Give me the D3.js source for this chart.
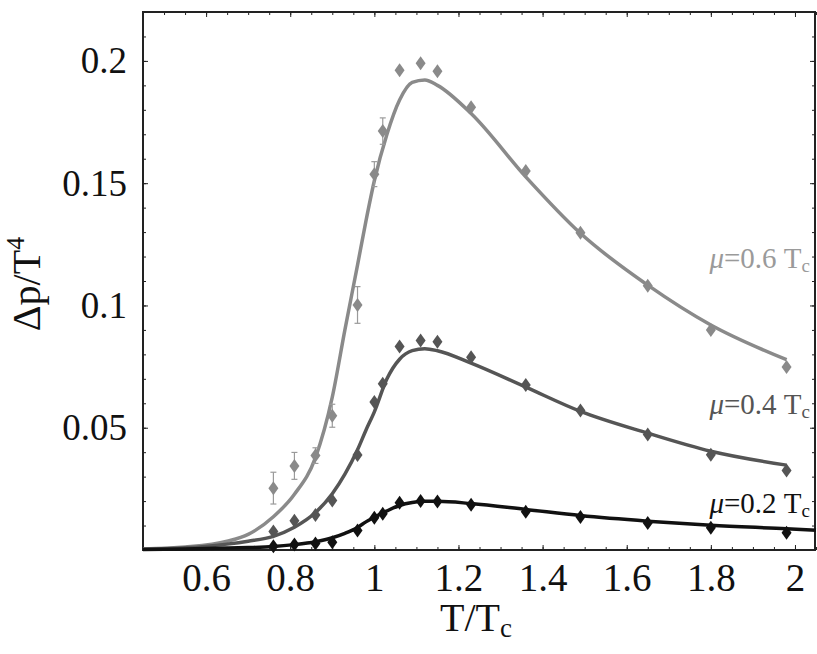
<!DOCTYPE html>
<html>
<head>
<meta charset="utf-8">
<script src="https://cdn.jsdelivr.net/npm/d3@7"></script>
<style>
  body { margin: 0; background: #fff; }
  .tick line { stroke: #222; }
</style>
</head>
<body>
<svg id="chart" width="817" height="654"></svg>
<script>
// lattice points (T/Tc) and pressure difference for three chemical potentials
const temps = [0.76, 0.81, 0.86, 0.90, 0.96, 1.00, 1.02, 1.06, 1.11, 1.15, 1.23, 1.36, 1.49, 1.65, 1.80, 1.98];
const mu02 = [0.0015, 0.0023, 0.0027, 0.0032, 0.0080, 0.0132, 0.0148, 0.0193, 0.0200, 0.0198, 0.0185, 0.0156, 0.0135, 0.0110, 0.0091, 0.0071];
const mu04 = [0.0076, 0.0120, 0.0143, 0.0202, 0.0388, 0.0605, 0.0680, 0.0832, 0.0857, 0.0852, 0.0788, 0.0675, 0.0570, 0.0472, 0.0390, 0.0325];
const mu06 = [0.0253, 0.0344, 0.0386, 0.0549, 0.1002, 0.1537, 0.1713, 0.1962, 0.1990, 0.1958, 0.1810, 0.1550, 0.1297, 0.1081, 0.0900, 0.0748];
const mu06Err = [0.0065, 0.0055, 0.0032, 0.0047, 0.0075, 0.0051, 0.0054, 0, 0, 0, 0, 0, 0, 0, 0, 0];

// fitted curves
const fitT = [0.45, 0.55, 0.65, 0.70, 0.76, 0.81, 0.86, 0.90, 0.93, 0.96, 0.98, 1.00, 1.03, 1.06, 1.09, 1.12, 1.15, 1.23, 1.36, 1.49, 1.65, 1.80, 1.98, 2.05];
const fit02 = [0.0002, 0.0004, 0.0008, 0.0010, 0.0014, 0.0022, 0.0034, 0.0050, 0.0068, 0.0092, 0.0115, 0.0134, 0.0160, 0.0182, 0.0194, 0.0199, 0.0199, 0.0190, 0.0166, 0.0141, 0.0118, 0.0101, 0.0087, 0.0081];
const fit04 = [0.0003, 0.0009, 0.0024, 0.0036, 0.0056, 0.0093, 0.0153, 0.0230, 0.0310, 0.0410, 0.0490, 0.0565, 0.0700, 0.0780, 0.0815, 0.0823, 0.0815, 0.0764, 0.0666, 0.0567, 0.0478, 0.0404, 0.0347, null];
const fit06 = [0.0004, 0.0012, 0.0036, 0.0064, 0.0136, 0.0228, 0.0378, 0.0625, 0.0900, 0.1165, 0.1345, 0.1510, 0.1700, 0.1840, 0.1912, 0.1922, 0.1900, 0.1785, 0.1526, 0.1295, 0.1083, 0.0920, 0.0778, null];

const xTicks = [0.6, 0.8, 1, 1.2, 1.4, 1.6, 1.8, 2];
const yTicks = [0.05, 0.1, 0.15, 0.2];

const serif = "'Liberation Serif', 'Times New Roman', Tinos, 'Nimbus Roman', 'DejaVu Serif', serif";

const svg = d3.select("#chart");
const margins = { top: 12, right: 1, bottom: 104, left: 143 };
const width = +svg.attr("width");
const height = +svg.attr("height");

const xScale = d3.scaleLinear().domain([0.45, 2.05]).range([margins.left, width - margins.right]);
const yScale = d3.scaleLinear().domain([0, 0.22]).range([height - margins.bottom, margins.top]);

const xMinor = d3.range(0.45, 2.051, 0.05).map((d) => +d.toFixed(2));
const yMinor = d3.range(0, 0.2201, 0.01).map((d) => +d.toFixed(2));

const series = [
  { vals: mu06, fit: fit06, color: "#8a8a8a", label: "0.6", labelColor: "#9a9a9a", labelY: 268 },
  { vals: mu04, fit: fit04, color: "#555555", label: "0.4", labelColor: "#555555", labelY: 414 },
  { vals: mu02, fit: fit02, color: "#111111", label: "0.2", labelColor: "#111111", labelY: 513 },
];

// frame
svg.append("rect")
  .attr("x", margins.left)
  .attr("y", margins.top)
  .attr("width", width - margins.left - margins.right - 1)
  .attr("height", height - margins.top - margins.bottom)
  .attr("fill", "none")
  .attr("stroke", "#222")
  .attr("stroke-width", 2);

// ticks on all four sides, pointing inward
function addTicks(axis, transform, size) {
  const g = svg.append("g").attr("transform", transform).call(axis.tickSize(-size));
  g.select(".domain").remove();
  return g;
}
const bottomY = height - margins.bottom;
const rightX = width - margins.right - 1;
addTicks(d3.axisBottom(xScale).tickValues(xMinor).tickFormat(""), `translate(0,${bottomY})`, 3);
addTicks(d3.axisTop(xScale).tickValues(xMinor).tickFormat(""), `translate(0,${margins.top})`, 3);
addTicks(d3.axisLeft(yScale).tickValues(yMinor).tickFormat(""), `translate(${margins.left},0)`, 3);
addTicks(d3.axisRight(yScale).tickValues(yMinor).tickFormat(""), `translate(${rightX},0)`, 3);
addTicks(d3.axisTop(xScale).tickValues(xTicks).tickFormat(""), `translate(0,${margins.top})`, 5);
addTicks(d3.axisRight(yScale).tickValues(yTicks).tickFormat(""), `translate(${rightX},0)`, 5);

const bottomAxis = addTicks(
  d3.axisBottom(xScale).tickValues(xTicks).tickFormat(d3.format("~g")).tickPadding(13),
  `translate(0,${bottomY})`, 5);
bottomAxis.attr("font-family", null).style("font-family", serif);
bottomAxis.selectAll("text").style("font-family", serif).style("font-size", "39px").attr("fill", "#111");

const leftAxis = addTicks(
  d3.axisLeft(yScale).tickValues(yTicks).tickFormat(d3.format("~g")).tickPadding(16),
  `translate(${margins.left},0)`, 5);
leftAxis.attr("font-family", null).style("font-family", serif);
leftAxis.selectAll("text").style("font-family", serif).style("font-size", "37px").attr("fill", "#111");

// axis titles
const xTitle = svg.append("text")
  .attr("x", 476)
  .attr("y", 631)
  .attr("text-anchor", "middle")
  .style("font-family", serif)
  .style("font-size", "40px")
  .attr("fill", "#111");
xTitle.append("tspan").text("T/T");
xTitle.append("tspan").text("c").style("font-size", "27px").attr("dy", 6);

const yTitle = svg.append("text")
  .attr("transform", "translate(40,284) rotate(-90)")
  .attr("text-anchor", "middle")
  .style("font-family", serif)
  .style("font-size", "40px")
  .attr("fill", "#111");
yTitle.append("tspan").text("\u0394p/T");
yTitle.append("tspan").text("4").style("font-size", "26px").attr("dy", -16);

// curves, error bars, markers
const chartArea = svg.append("g");
const line = d3.line()
  .defined((d) => d[1] !== null)
  .x((d) => xScale(d[0]))
  .y((d) => yScale(d[1]))
  .curve(d3.curveMonotoneX);

series.forEach((s) => {
  chartArea.append("path")
    .datum(fitT.map((t, i) => [t, s.fit[i]]))
    .attr("d", line)
    .attr("fill", "none")
    .attr("stroke", s.color)
    .attr("stroke-width", 3.5);
});

temps.forEach((t, i) => {
  const e = mu06Err[i];
  if (e > 0) {
    const cx = xScale(t);
    const g = chartArea.append("g").attr("stroke", "#9a9a9a").attr("stroke-width", 1.2);
    g.append("line").attr("x1", cx).attr("x2", cx)
      .attr("y1", yScale(mu06[i] - e)).attr("y2", yScale(mu06[i] + e));
    [mu06[i] - e, mu06[i] + e].forEach((v) => {
      g.append("line").attr("x1", cx - 3).attr("x2", cx + 3)
        .attr("y1", yScale(v)).attr("y2", yScale(v));
    });
  }
});

series.forEach((s) => {
  temps.forEach((t, i) => {
    chartArea.append("path")
      .attr("d", "M0,-7L5,0L0,7L-5,0Z")
      .attr("transform", `translate(${xScale(t)},${yScale(s.vals[i])})`)
      .attr("fill", s.color);
  });
});

// curve labels
series.forEach((s) => {
  const lbl = svg.append("text")
    .attr("x", 810)
    .attr("y", s.labelY)
    .attr("text-anchor", "end")
    .style("font-family", serif)
    .style("font-size", "29px")
    .attr("fill", s.labelColor);
  lbl.append("tspan").text("\u03bc").style("font-style", "italic");
  lbl.append("tspan").text("=" + s.label + " T");
  lbl.append("tspan").text("c").style("font-size", "19px").attr("dy", 4);
});
</script>
</body>
</html>
